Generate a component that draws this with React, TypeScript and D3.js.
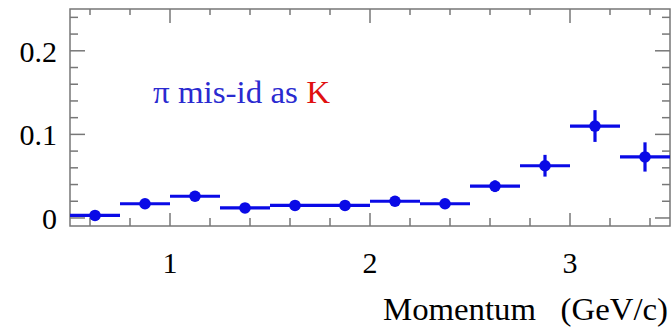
import React, { useEffect, useRef } from 'react';
import * as d3 from 'd3';

// bin edges (GeV/c) and measured mis-id rates
const binLow = [0.5, 0.75, 1.0, 1.25, 1.5, 1.75, 2.0, 2.25, 2.5, 2.75, 3.0, 3.25];
const binHigh = [0.75, 1.0, 1.25, 1.5, 1.75, 2.0, 2.25, 2.5, 2.75, 3.0, 3.25, 3.5];
const rate = [0.003, 0.017, 0.026, 0.012, 0.015, 0.015, 0.02, 0.017, 0.038, 0.0625, 0.11, 0.073];
const rateErr = [0.002, 0.002, 0.002, 0.002, 0.002, 0.002, 0.002, 0.002, 0.007, 0.013, 0.019, 0.0175];
const xMajor = [1, 2, 3];
const yMajor = [0, 0.1, 0.2];

const W = 671;
const H = 328;

const App = () => {
    const svgRef = useRef<SVGSVGElement>(null);

    useEffect(() => {
        const svg = d3.select(svgRef.current);
        svg.selectAll('*').remove();

        const left = 70, right = 670, top = 9, bottom = 226;
        const x = d3.scaleLinear().domain([0.5, 3.5]).range([left, right]);
        const y = d3.scaleLinear().domain([-0.0096, 0.25]).range([bottom, top]);
        const frame = '#777';
        const blue = '#0a0ae6';
        const font = '"Liberation Serif", "Times New Roman", serif';

        svg.append('rect')
            .attr('x', left).attr('y', top)
            .attr('width', right - left).attr('height', bottom - top)
            .attr('fill', 'none').attr('stroke', frame).attr('stroke-width', 1.5);

        // x ticks, bottom and top
        const xTicks = d3.range(0.6, 3.45, 0.2).map(v => Math.round(v * 10) / 10);
        xTicks.forEach(v => {
            const major = xMajor.includes(v);
            const len = major ? 13 : 8;
            svg.append('line').attr('x1', x(v)).attr('x2', x(v))
                .attr('y1', bottom).attr('y2', bottom - len)
                .attr('stroke', frame).attr('stroke-width', 1.5);
            svg.append('line').attr('x1', x(v)).attr('x2', x(v))
                .attr('y1', top).attr('y2', top + (major ? 14 : 6))
                .attr('stroke', frame).attr('stroke-width', 1.5);
        });

        // y ticks, left and right
        const yTicks = d3.range(0, 0.245, 0.02).map(v => Math.round(v * 100) / 100);
        yTicks.forEach(v => {
            const major = yMajor.some(m => Math.abs(m - v) < 1e-9);
            const len = major ? 15 : 8;
            svg.append('line').attr('x1', left).attr('x2', left + len)
                .attr('y1', y(v)).attr('y2', y(v))
                .attr('stroke', frame).attr('stroke-width', 1.5);
            svg.append('line').attr('x1', right).attr('x2', right - len)
                .attr('y1', y(v)).attr('y2', y(v))
                .attr('stroke', frame).attr('stroke-width', 1.5);
        });

        svg.selectAll('.xlab').data(xMajor).enter().append('text')
            .attr('x', d => x(d)).attr('y', 273)
            .attr('text-anchor', 'middle')
            .style('font-family', font).style('font-size', '30px')
            .text(d => d);

        svg.selectAll('.ylab').data(yMajor).enter().append('text')
            .attr('x', 57).attr('y', d => y(d) + 11)
            .attr('text-anchor', 'end')
            .style('font-family', font).style('font-size', '30px')
            .text(d => d3.format('.1~f')(d));

        svg.append('text')
            .attr('x', 383).attr('y', 320)
            .attr('xml:space', 'preserve')
            .attr('textLength', 285).attr('lengthAdjust', 'spacingAndGlyphs')
            .style('font-family', font).style('font-size', '31px')
            .text('Momentum   (GeV/c)');

        const label = svg.append('text')
            .attr('x', 153).attr('y', 103)
            .attr('textLength', 177).attr('lengthAdjust', 'spacingAndGlyphs')
            .style('font-family', font).style('font-size', '32px')
            .attr('fill', '#2a2ad0');
        label.append('tspan').text('π mis-id as ');
        label.append('tspan').attr('fill', '#e01010').text('K');

        // data points
        const pts = svg.append('g');
        rate.forEach((r, i) => {
            pts.append('line')
                .attr('x1', x(binLow[i])).attr('x2', x(binHigh[i]))
                .attr('y1', y(r)).attr('y2', y(r))
                .attr('stroke', blue).attr('stroke-width', 3.2);
            const cx = x((binLow[i] + binHigh[i]) / 2);
            pts.append('line')
                .attr('x1', cx).attr('x2', cx)
                .attr('y1', y(r - rateErr[i])).attr('y2', y(r + rateErr[i]))
                .attr('stroke', blue).attr('stroke-width', 3.2);
            pts.append('circle')
                .attr('cx', cx).attr('cy', y(r)).attr('r', 5.8)
                .attr('fill', blue);
        });
    }, []);

    return (
        <svg ref={svgRef} width={W} height={H}
            style={{ position: 'absolute', left: 0, top: 0, background: 'white' }} />
    );
};

export default App;
